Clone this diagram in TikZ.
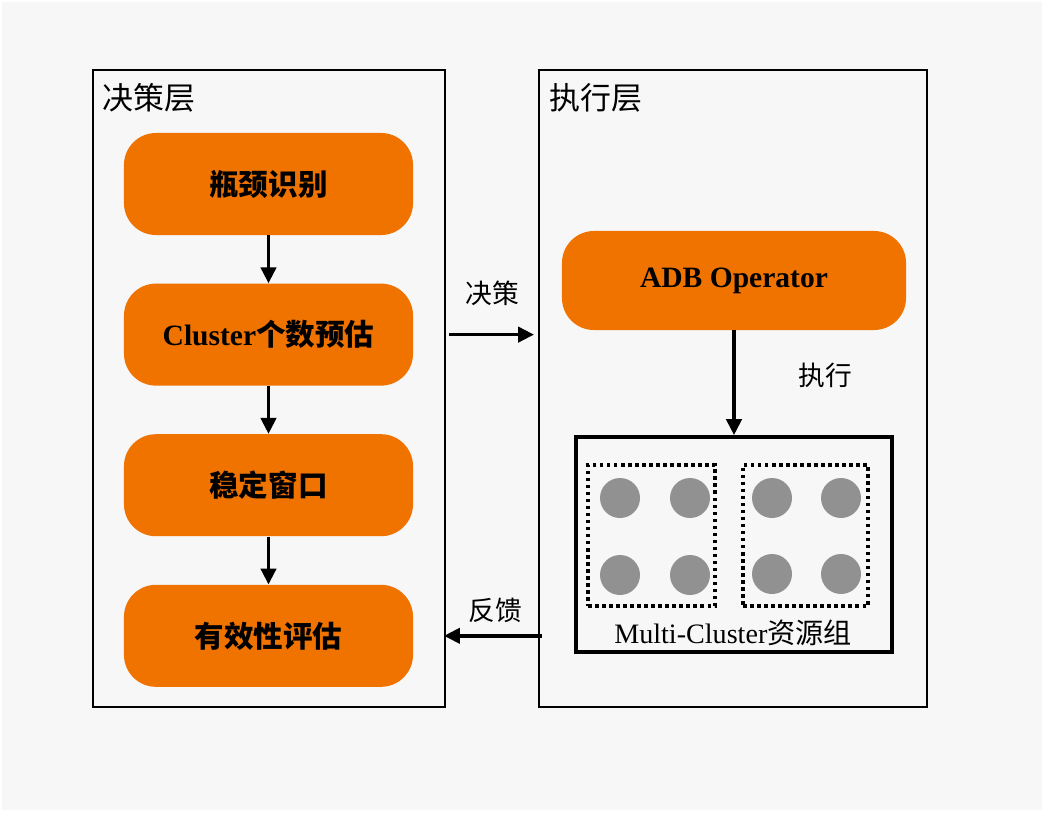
\documentclass[tikz,border=0pt]{standalone}
\usepackage{fontspec}
\setmainfont{Liberation Serif}
\newfontfamily\cjk{Noto Sans CJK SC}
\usepackage{tikz}
\usetikzlibrary{arrows.meta,positioning}
\definecolor{bggray}{RGB}{247,247,247}
\definecolor{adborange}{RGB}{240,115,0}
\definecolor{nodegray}{RGB}{145,145,145}
\tikzset{
  layer/.style={draw,line width=1.3pt,fill=bggray,inner sep=0pt,
                minimum width=8.8cm,minimum height=15.925cm},
  obox/.style={fill=adborange,rounded corners=0.8cm,align=center,inner sep=0pt,
               font=\bfseries\fontsize{21}{24}\selectfont,
               minimum width=7.225cm,minimum height=2.55cm},
  grp/.style={draw,line width=2.5pt,dash pattern=on 2.5pt off 2.5pt,
              minimum width=3.175cm,minimum height=3.525cm,inner sep=0pt},
  lbl/.style={font=\cjk\fontsize{19}{22}\selectfont,inner sep=0pt},
  arr/.style={-{Triangle[length=4mm,width=3.8mm]},line width=2.6pt},
}
\begin{document}
\begin{tikzpicture}[x=0.025cm,y=-0.025cm,node distance=1.2cm]
        \fill[white](0,0) rectangle (1044,812);
        \fill[bggray](2,2) rectangle (1042,810);
        % two layers
        \node[layer] (lframe) at (269,388.5) {};
        \node[layer,minimum width=9.7cm] (rframe) at (733,388.5) {};
        \node[lbl,anchor=west,font=\cjk\fontsize{22}{25}\selectfont] (ltitle) at (102,98) {决策层};
        \node[lbl,anchor=west,font=\cjk\fontsize{22}{25}\selectfont] (rtitle) at (549,98) {执行层};
        % decision steps
        \node[obox] (bot) at (268.5,184) {{\cjk\bfseries 瓶颈识别}};
        \node[obox,below=of bot] (cnt) {Cluster{\cjk\bfseries 个数预估}};
        \node[obox,below=of cnt] (win) {{\cjk\bfseries 稳定窗口}};
        \node[obox,below=of win] (eval) {{\cjk\bfseries 有效性评估}};
        \draw[arr](bot)--(cnt);
        \draw[arr](cnt)--(win);
        \draw[arr](win)--(eval);
        % execution
        \node[obox,minimum width=8.6cm,minimum height=2.475cm] (adb) at (734,280.5) {ADB Operator};
        \node[draw,line width=2.6pt,minimum width=7.9cm,minimum height=5.375cm,inner sep=0pt]
              (res) at (734,544.5) {};
        \node[grp] (grp1) at (651.5,535.5) {};
        \node[grp,minimum width=3.125cm] (grp2) at (805.5,535.5) {};
        \foreach \x/\y in {620/498,690/498,620/575,690/575,772/498,841/498,772/574,841/574}
          \fill[nodegray] (\x,\y) circle (20);
        \node[lbl,font=\fontsize{20}{23}\selectfont] (reslbl) at (733,633) {Multi-Cluster{\cjk 资源组}};
        \draw[arr](adb)--(res);
        \node[lbl] (exec) at (825,375) {执行};
        % between layers
        \draw[arr]([xshift=0.08cm]lframe.east |- cnt)--([xshift=-0.1cm]rframe.west |- cnt);
        \node[lbl] (dec) at (492,293) {决策};
        \draw[arr]([xshift=0.1cm]rframe.west |- eval)--([xshift=-0.05cm]lframe.east |- eval);
        \node[lbl] (fb) at (495,610) {反馈};
      \end{tikzpicture}
\end{document}
